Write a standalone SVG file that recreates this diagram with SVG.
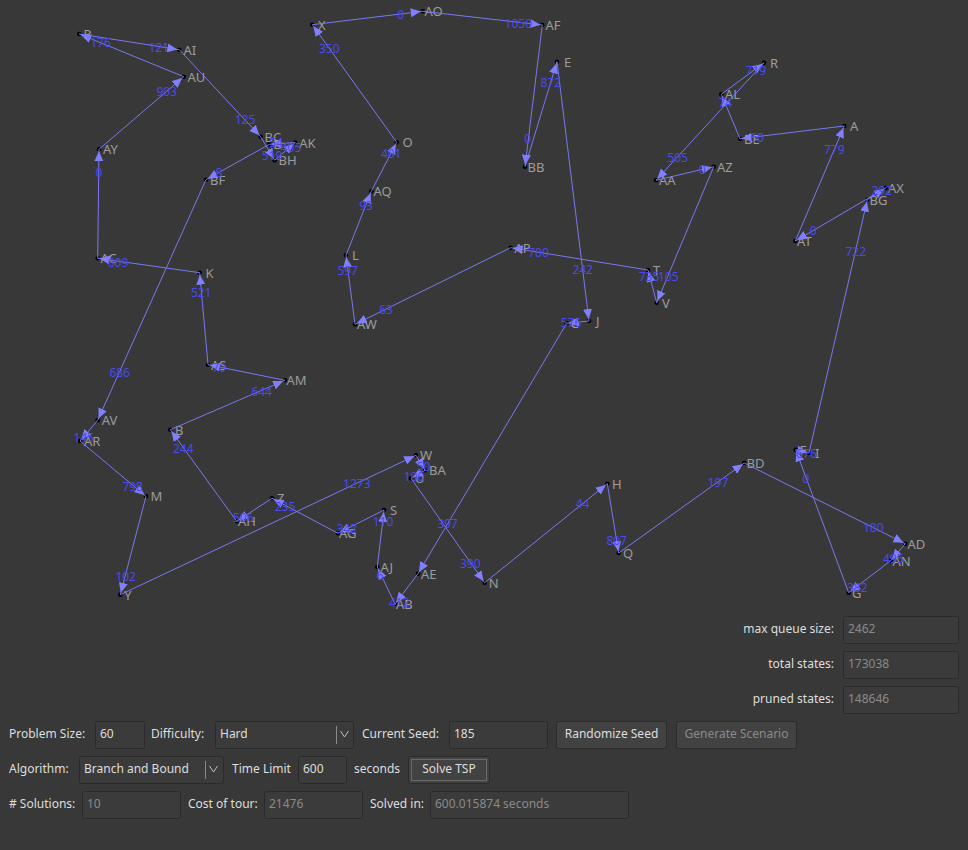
<svg xmlns="http://www.w3.org/2000/svg" width="968" height="850" viewBox="0 0 968 850">
<style>
.bg{fill:#383838}
.dot{fill:#000}
.nl{font-family:"Noto Sans","Liberation Sans",sans-serif;font-size:13px;fill:#9c9c9c}
.e{stroke:#7878f2;stroke-width:1;fill:none}
.el{font-family:"Noto Sans","Liberation Sans",sans-serif;font-size:12px;fill:#4a4af2;text-anchor:middle}
.ui{font-family:"Noto Sans","Liberation Sans",sans-serif;font-size:12px;fill:#dedede}
.dim{fill:#8a8a8a}
.box{fill:#3b3b3b;stroke:#2a2a2a;stroke-width:1}
.btn{fill:#424242;stroke:#2b2b2b;stroke-width:1}
.chev{fill:none;stroke:#bdbdbd;stroke-width:1}
.div{stroke:#8a8a8a;stroke-width:1}
</style>
<defs>
<marker id="arr" markerUnits="userSpaceOnUse" markerWidth="14" markerHeight="10" refX="12" refY="4.5" orient="auto">
<path d="M0,0 L10,4.5 L0,9 Z" fill="#8080ff"/>
</marker>
</defs>
<rect class="bg" x="0" y="0" width="968" height="850"/>

<g id="nodes">
<g id="n-P"><circle class="dot" cx="79.3" cy="34" r="2.3"/><text class="nl" x="83.5" y="39">P</text></g>
<g id="n-AI"><circle class="dot" cx="179.3" cy="49.7" r="2.3"/><text class="nl" x="183.5" y="54.7">AI</text></g>
<g id="n-AU"><circle class="dot" cx="183.7" cy="76.7" r="2.3"/><text class="nl" x="187.5" y="81.7">AU</text></g>
<g id="n-AY"><circle class="dot" cx="99" cy="149.3" r="2.3"/><text class="nl" x="103" y="154.3">AY</text></g>
<g id="n-BC"><circle class="dot" cx="260.7" cy="136.7" r="2.3"/><text class="nl" x="264.5" y="141.7">BC</text></g>
<g id="n-D"><circle class="dot" cx="269.3" cy="144.3" r="2.3"/><text class="nl" x="273.3" y="149.3">D</text></g>
<g id="n-AK"><circle class="dot" cx="295.2" cy="142.5" r="2.3"/><text class="nl" x="299.2" y="147.5">AK</text></g>
<g id="n-BH"><circle class="dot" cx="274.7" cy="160.2" r="2.3"/><text class="nl" x="278.5" y="165">BH</text></g>
<g id="n-BF"><circle class="dot" cx="206" cy="179.7" r="2.3"/><text class="nl" x="210" y="184.7">BF</text></g>
<g id="n-AV"><circle class="dot" cx="97.7" cy="420.3" r="2.3"/><text class="nl" x="101.7" y="425.3">AV</text></g>
<g id="n-AR"><circle class="dot" cx="80" cy="441" r="2.3"/><text class="nl" x="84" y="446">AR</text></g>
<g id="n-M"><circle class="dot" cx="146" cy="496.3" r="2.3"/><text class="nl" x="150.5" y="501.3">M</text></g>
<g id="n-Y"><circle class="dot" cx="120.3" cy="594.7" r="2.3"/><text class="nl" x="124.3" y="599.7">Y</text></g>
<g id="n-W"><circle class="dot" cx="416" cy="455.3" r="2.3"/><text class="nl" x="420" y="460.3">W</text></g>
<g id="n-BA"><circle class="dot" cx="425" cy="470.3" r="2.3"/><text class="nl" x="429" y="475.3">BA</text></g>
<g id="n-U"><circle class="dot" cx="411" cy="478.3" r="2.3"/><text class="nl" x="415" y="483.3">U</text></g>
<g id="n-N"><circle class="dot" cx="484.7" cy="582.7" r="2.3"/><text class="nl" x="488.7" y="587.7">N</text></g>
<g id="n-H"><circle class="dot" cx="607.3" cy="483.7" r="2.3"/><text class="nl" x="612" y="488.7">H</text></g>
<g id="n-Q"><circle class="dot" cx="618.7" cy="553" r="2.3"/><text class="nl" x="623" y="558">Q</text></g>
<g id="n-BD"><circle class="dot" cx="744.3" cy="463" r="2.3"/><text class="nl" x="746.5" y="468">BD</text></g>
<g id="n-AD"><circle class="dot" cx="905.3" cy="543.7" r="2.3"/><text class="nl" x="907.5" y="548.7">AD</text></g>
<g id="n-AN"><circle class="dot" cx="890.7" cy="560.7" r="2.3"/><text class="nl" x="892.5" y="565.7">AN</text></g>
<g id="n-G"><circle class="dot" cx="848.7" cy="592.7" r="2.3"/><text class="nl" x="852" y="597.7">G</text></g>
<g id="n-F"><circle class="dot" cx="795.7" cy="449.7" r="2.3"/><text class="nl" x="799.7" y="454.7">F</text></g>
<g id="n-I"><circle class="dot" cx="809" cy="453" r="2.3"/><text class="nl" x="815" y="458">I</text></g>
<g id="n-BG"><circle class="dot" cx="867.3" cy="199.7" r="2.3"/><text class="nl" x="869.5" y="204.7">BG</text></g>
<g id="n-AX"><circle class="dot" cx="885.7" cy="188" r="2.3"/><text class="nl" x="888" y="193">AX</text></g>
<g id="n-AT"><circle class="dot" cx="795.3" cy="241" r="2.3"/><text class="nl" x="797" y="246">AT</text></g>
<g id="n-A"><circle class="dot" cx="844.3" cy="126" r="2.3"/><text class="nl" x="850" y="131">A</text></g>
<g id="n-BE"><circle class="dot" cx="740" cy="138.7" r="2.3"/><text class="nl" x="744" y="143.7">BE</text></g>
<g id="n-AL"><circle class="dot" cx="721.3" cy="94.3" r="2.3"/><text class="nl" x="725" y="99.3">AL</text></g>
<g id="n-R"><circle class="dot" cx="764" cy="62.7" r="2.3"/><text class="nl" x="770" y="67.7">R</text></g>
<g id="n-AA"><circle class="dot" cx="656" cy="180.3" r="2.3"/><text class="nl" x="659" y="185.3">AA</text></g>
<g id="n-AZ"><circle class="dot" cx="713.7" cy="166.7" r="2.3"/><text class="nl" x="717" y="171.7">AZ</text></g>
<g id="n-V"><circle class="dot" cx="656.7" cy="302.7" r="2.3"/><text class="nl" x="662" y="307.7">V</text></g>
<g id="n-T"><circle class="dot" cx="648" cy="270" r="2.3"/><text class="nl" x="653" y="275">T</text></g>
<g id="n-AP"><circle class="dot" cx="510.7" cy="247.7" r="2.3"/><text class="nl" x="514.5" y="252.7">AP</text></g>
<g id="n-AW"><circle class="dot" cx="355" cy="324.3" r="2.3"/><text class="nl" x="357" y="329.3">AW</text></g>
<g id="n-L"><circle class="dot" cx="346" cy="255.3" r="2.3"/><text class="nl" x="352" y="260.3">L</text></g>
<g id="n-AQ"><circle class="dot" cx="371.3" cy="191.3" r="2.3"/><text class="nl" x="373.5" y="196.3">AQ</text></g>
<g id="n-O"><circle class="dot" cx="396.7" cy="142.3" r="2.3"/><text class="nl" x="402.5" y="147.3">O</text></g>
<g id="n-X"><circle class="dot" cx="312.3" cy="24.7" r="2.3"/><text class="nl" x="318" y="29.7">X</text></g>
<g id="n-AO"><circle class="dot" cx="422.7" cy="11.3" r="2.3"/><text class="nl" x="424.5" y="16.3">AO</text></g>
<g id="n-AF"><circle class="dot" cx="542.3" cy="25" r="2.3"/><text class="nl" x="545.5" y="30">AF</text></g>
<g id="n-BB"><circle class="dot" cx="525" cy="166.7" r="2.3"/><text class="nl" x="527.5" y="171.7">BB</text></g>
<g id="n-E"><circle class="dot" cx="557" cy="61.7" r="2.3"/><text class="nl" x="564" y="66.7">E</text></g>
<g id="n-J"><circle class="dot" cx="589" cy="321" r="2.3"/><text class="nl" x="596" y="326">J</text></g>
<g id="n-C"><circle class="dot" cx="566.7" cy="323.3" r="2.3"/><text class="nl" x="570.5" y="328.3">C</text></g>
<g id="n-AE"><circle class="dot" cx="418" cy="573.7" r="2.3"/><text class="nl" x="421" y="578.7">AE</text></g>
<g id="n-AB"><circle class="dot" cx="395" cy="604" r="2.3"/><text class="nl" x="396" y="609">AB</text></g>
<g id="n-AJ"><circle class="dot" cx="377.3" cy="567" r="2.3"/><text class="nl" x="380.5" y="572">AJ</text></g>
<g id="n-S"><circle class="dot" cx="384" cy="510" r="2.3"/><text class="nl" x="390" y="515">S</text></g>
<g id="n-AG"><circle class="dot" cx="338" cy="533.3" r="2.3"/><text class="nl" x="339" y="538.3">AG</text></g>
<g id="n-Z"><circle class="dot" cx="272" cy="498.3" r="2.3"/><text class="nl" x="277" y="503.3">Z</text></g>
<g id="n-AH"><circle class="dot" cx="236.7" cy="521.3" r="2.3"/><text class="nl" x="238" y="526.3">AH</text></g>
<g id="n-B"><circle class="dot" cx="170.3" cy="429.7" r="2.3"/><text class="nl" x="175" y="434.7">B</text></g>
<g id="n-AM"><circle class="dot" cx="285" cy="380.3" r="2.3"/><text class="nl" x="286.5" y="385.3">AM</text></g>
<g id="n-AS"><circle class="dot" cx="208" cy="364.7" r="2.3"/><text class="nl" x="211" y="369.7">AS</text></g>
<g id="n-K"><circle class="dot" cx="199.7" cy="272.7" r="2.3"/><text class="nl" x="205.5" y="277.7">K</text></g>
<g id="n-AC"><circle class="dot" cx="97.7" cy="258.3" r="2.3"/><text class="nl" x="100.5" y="263.3">AC</text></g>
</g>

<g id="connectors">
<g id="edges" marker-end="url(#arr)">
<line class="e" x1="99" y1="149.3" x2="183.7" y2="76.7" marker-end="url(#arr)"/>
<line class="e" x1="183.7" y1="76.7" x2="79.3" y2="34" marker-end="url(#arr)"/>
<line class="e" x1="79.3" y1="34" x2="179.3" y2="49.7" marker-end="url(#arr)"/>
<line class="e" x1="179.3" y1="49.7" x2="260.7" y2="136.7" marker-end="url(#arr)"/>
<line class="e" x1="260.7" y1="136.7" x2="274.7" y2="160.2" marker-end="url(#arr)"/>
<line class="e" x1="274.7" y1="160.2" x2="295.2" y2="142.5" marker-end="url(#arr)"/>
<line class="e" x1="295.2" y1="142.5" x2="269.3" y2="144.3" marker-end="url(#arr)"/>
<line class="e" x1="269.3" y1="144.3" x2="206" y2="179.7" marker-end="url(#arr)"/>
<line class="e" x1="206" y1="179.7" x2="97.7" y2="420.3" marker-end="url(#arr)"/>
<line class="e" x1="97.7" y1="420.3" x2="80" y2="441" marker-end="url(#arr)"/>
<line class="e" x1="80" y1="441" x2="146" y2="496.3" marker-end="url(#arr)"/>
<line class="e" x1="146" y1="496.3" x2="120.3" y2="594.7" marker-end="url(#arr)"/>
<line class="e" x1="120.3" y1="594.7" x2="416" y2="455.3" marker-end="url(#arr)"/>
<line class="e" x1="416" y1="455.3" x2="425" y2="470.3" marker-end="url(#arr)"/>
<line class="e" x1="425" y1="470.3" x2="411" y2="478.3" marker-end="url(#arr)"/>
<line class="e" x1="411" y1="478.3" x2="484.7" y2="582.7" marker-end="url(#arr)"/>
<line class="e" x1="484.7" y1="582.7" x2="607.3" y2="483.7" marker-end="url(#arr)"/>
<line class="e" x1="607.3" y1="483.7" x2="618.7" y2="553" marker-end="url(#arr)"/>
<line class="e" x1="618.7" y1="553" x2="744.3" y2="463" marker-end="url(#arr)"/>
<line class="e" x1="744.3" y1="463" x2="905.3" y2="543.7" marker-end="url(#arr)"/>
<line class="e" x1="905.3" y1="543.7" x2="890.7" y2="560.7" marker-end="url(#arr)"/>
<line class="e" x1="890.7" y1="560.7" x2="848.7" y2="592.7" marker-end="url(#arr)"/>
<line class="e" x1="848.7" y1="592.7" x2="795.7" y2="449.7" marker-end="url(#arr)"/>
<line class="e" x1="795.7" y1="449.7" x2="809" y2="453" marker-end="url(#arr)"/>
<line class="e" x1="809" y1="453" x2="867.3" y2="199.7" marker-end="url(#arr)"/>
<line class="e" x1="867.3" y1="199.7" x2="885.7" y2="188" marker-end="url(#arr)"/>
<line class="e" x1="885.7" y1="188" x2="795.3" y2="241" marker-end="url(#arr)"/>
<line class="e" x1="795.3" y1="241" x2="844.3" y2="126" marker-end="url(#arr)"/>
<line class="e" x1="844.3" y1="126" x2="740" y2="138.7" marker-end="url(#arr)"/>
<line class="e" x1="740" y1="138.7" x2="721.3" y2="94.3" marker-end="url(#arr)"/>
<line class="e" x1="721.3" y1="94.3" x2="764" y2="62.7" marker-end="url(#arr)"/>
<line class="e" x1="764" y1="62.7" x2="656" y2="180.3" marker-end="url(#arr)"/>
<line class="e" x1="656" y1="180.3" x2="713.7" y2="166.7" marker-end="url(#arr)"/>
<line class="e" x1="713.7" y1="166.7" x2="656.7" y2="302.7" marker-end="url(#arr)"/>
<line class="e" x1="656.7" y1="302.7" x2="648" y2="270" marker-end="url(#arr)"/>
<line class="e" x1="648" y1="270" x2="510.7" y2="247.7" marker-end="url(#arr)"/>
<line class="e" x1="510.7" y1="247.7" x2="355" y2="324.3" marker-end="url(#arr)"/>
<line class="e" x1="355" y1="324.3" x2="346" y2="255.3" marker-end="url(#arr)"/>
<line class="e" x1="346" y1="255.3" x2="371.3" y2="191.3" marker-end="url(#arr)"/>
<line class="e" x1="371.3" y1="191.3" x2="396.7" y2="142.3" marker-end="url(#arr)"/>
<line class="e" x1="396.7" y1="142.3" x2="312.3" y2="24.7" marker-end="url(#arr)"/>
<line class="e" x1="312.3" y1="24.7" x2="422.7" y2="11.3" marker-end="url(#arr)"/>
<line class="e" x1="422.7" y1="11.3" x2="542.3" y2="25" marker-end="url(#arr)"/>
<line class="e" x1="542.3" y1="25" x2="525" y2="166.7" marker-end="url(#arr)"/>
<line class="e" x1="525" y1="166.7" x2="557" y2="61.7" marker-end="url(#arr)"/>
<line class="e" x1="557" y1="61.7" x2="589" y2="321" marker-end="url(#arr)"/>
<line class="e" x1="589" y1="321" x2="566.7" y2="323.3" marker-end="url(#arr)"/>
<line class="e" x1="566.7" y1="323.3" x2="418" y2="573.7" marker-end="url(#arr)"/>
<line class="e" x1="418" y1="573.7" x2="395" y2="604" marker-end="url(#arr)"/>
<line class="e" x1="395" y1="604" x2="377.3" y2="567" marker-end="url(#arr)"/>
<line class="e" x1="377.3" y1="567" x2="384" y2="510" marker-end="url(#arr)"/>
<line class="e" x1="384" y1="510" x2="338" y2="533.3" marker-end="url(#arr)"/>
<line class="e" x1="338" y1="533.3" x2="272" y2="498.3" marker-end="url(#arr)"/>
<line class="e" x1="272" y1="498.3" x2="236.7" y2="521.3" marker-end="url(#arr)"/>
<line class="e" x1="236.7" y1="521.3" x2="170.3" y2="429.7" marker-end="url(#arr)"/>
<line class="e" x1="170.3" y1="429.7" x2="285" y2="380.3" marker-end="url(#arr)"/>
<line class="e" x1="285" y1="380.3" x2="208" y2="364.7" marker-end="url(#arr)"/>
<line class="e" x1="208" y1="364.7" x2="199.7" y2="272.7" marker-end="url(#arr)"/>
<line class="e" x1="199.7" y1="272.7" x2="97.7" y2="258.3" marker-end="url(#arr)"/>
<line class="e" x1="97.7" y1="258.3" x2="99" y2="149.3" marker-end="url(#arr)"/>
</g>
<g id="edge-labels">
<text class="el" x="166.7" y="96">903</text>
<text class="el" x="100.7" y="47.3">176</text>
<text class="el" x="158.8" y="51.7">121</text>
<text class="el" x="245" y="124.3">125</text>
<text class="el" x="272" y="160">519</text>
<text class="el" x="291" y="151.7">405</text>
<text class="el" x="276" y="146.7">54</text>
<text class="el" x="219" y="176.7">8</text>
<text class="el" x="119.7" y="376.7">686</text>
<text class="el" x="83.7" y="442.3">145</text>
<text class="el" x="132.7" y="490.7">798</text>
<text class="el" x="125.7" y="580.7">102</text>
<text class="el" x="356.8" y="488.3">1273</text>
<text class="el" x="423.5" y="470.7">50</text>
<text class="el" x="414" y="480.7">100</text>
<text class="el" x="470.3" y="567.7">390</text>
<text class="el" x="582.5" y="508.3">44</text>
<text class="el" x="616.7" y="545">807</text>
<text class="el" x="718" y="486.7">197</text>
<text class="el" x="873.3" y="532.3">180</text>
<text class="el" x="893.3" y="562.7">495</text>
<text class="el" x="857.3" y="591.7">382</text>
<text class="el" x="806" y="483.3">0</text>
<text class="el" x="806.3" y="458.3">676</text>
<text class="el" x="855.8" y="255.7">722</text>
<text class="el" x="881.7" y="195">292</text>
<text class="el" x="813.3" y="235">0</text>
<text class="el" x="834.3" y="154.3">779</text>
<text class="el" x="757" y="141.7">60</text>
<text class="el" x="725.3" y="107.3">74</text>
<text class="el" x="755.8" y="75">719</text>
<text class="el" x="677.7" y="162.3">505</text>
<text class="el" x="702.3" y="174">0</text>
<text class="el" x="668.3" y="280.7">105</text>
<text class="el" x="649" y="280.7">735</text>
<text class="el" x="538.5" y="257.3">700</text>
<text class="el" x="386" y="314.3">63</text>
<text class="el" x="347.7" y="275">597</text>
<text class="el" x="366" y="210">93</text>
<text class="el" x="391.2" y="157.7">401</text>
<text class="el" x="329.3" y="53.3">350</text>
<text class="el" x="400.7" y="19.3">0</text>
<text class="el" x="518.3" y="27.7">1050</text>
<text class="el" x="527.8" y="143.3">0</text>
<text class="el" x="550.7" y="87.3">872</text>
<text class="el" x="582.7" y="274.3">242</text>
<text class="el" x="571" y="327.3">576</text>
<text class="el" x="447.7" y="528.3">397</text>
<text class="el" x="399.3" y="606.7">412</text>
<text class="el" x="380" y="580">6</text>
<text class="el" x="383" y="526">110</text>
<text class="el" x="346.7" y="533.3">342</text>
<text class="el" x="285" y="510.7">235</text>
<text class="el" x="243.3" y="521.7">506</text>
<text class="el" x="183.3" y="453.3">244</text>
<text class="el" x="261.7" y="395.7">644</text>
<text class="el" x="219" y="371.7">70</text>
<text class="el" x="201.2" y="296.7">521</text>
<text class="el" x="118" y="266.7">609</text>
<text class="el" x="99" y="176.7">0</text>
</g>
</g>

<g id="controls">
<text class="ui" x="834" y="633" text-anchor="end">max queue size:</text>
<rect class="box" x="843.5" y="616.5" width="115" height="27" rx="2"/>
<text class="ui dim" x="848" y="633">2462</text>
<text class="ui" x="834" y="668" text-anchor="end">total states:</text>
<rect class="box" x="843.5" y="651.5" width="115" height="27" rx="2"/>
<text class="ui dim" x="848" y="668">173038</text>
<text class="ui" x="834" y="703" text-anchor="end">pruned states:</text>
<rect class="box" x="843.5" y="686.5" width="115" height="27" rx="2"/>
<text class="ui dim" x="848" y="703">148646</text>

<text class="ui" x="9" y="738">Problem Size:</text>
<rect class="box" x="95.5" y="721.5" width="49" height="27" rx="2"/>
<text class="ui" x="100" y="738">60</text>
<text class="ui" x="151" y="738">Difficulty:</text>
<rect class="box" x="215.5" y="721.5" width="138" height="27" rx="2"/>
<text class="ui" x="220" y="738">Hard</text>
<line class="div" x1="336.5" y1="726" x2="336.5" y2="744"/>
<polyline class="chev" points="340.5,731 344.5,737 348.5,731"/>
<text class="ui" x="362" y="738">Current Seed:</text>
<rect class="box" x="449.5" y="721.5" width="98" height="27" rx="2"/>
<text class="ui" x="454" y="738">185</text>
<rect class="btn" x="556.5" y="721.5" width="110" height="27" rx="2"/>
<text class="ui" x="611.5" y="738" text-anchor="middle">Randomize Seed</text>
<rect class="btn" x="676.5" y="721.5" width="120" height="27" rx="2"/>
<text class="ui dim" x="736.5" y="738" text-anchor="middle">Generate Scenario</text>

<text class="ui" x="9" y="773">Algorithm:</text>
<rect class="box" x="79.5" y="756.5" width="144" height="27" rx="2"/>
<text class="ui" x="84" y="773">Branch and Bound</text>
<line class="div" x1="205.5" y1="761" x2="205.5" y2="779"/>
<polyline class="chev" points="209.5,766 213.5,772 217.5,766"/>
<text class="ui" x="232" y="773">Time Limit</text>
<rect class="box" x="298.5" y="756.5" width="48" height="27" rx="2"/>
<text class="ui" x="303" y="773">600</text>
<text class="ui" x="354" y="773">seconds</text>
<rect class="btn" x="408.5" y="756.5" width="81" height="27" rx="2"/>
<rect x="411.5" y="759.5" width="75" height="21" fill="none" stroke="#6a6a6a" stroke-width="1"/>
<text class="ui" x="449" y="773" text-anchor="middle">Solve TSP</text>

<text class="ui" x="9" y="808"># Solutions:</text>
<rect class="box" x="82.5" y="791.5" width="98" height="27" rx="2"/>
<text class="ui dim" x="87" y="808">10</text>
<text class="ui" x="188" y="808">Cost of tour:</text>
<rect class="box" x="264.5" y="791.5" width="98" height="27" rx="2"/>
<text class="ui dim" x="269" y="808">21476</text>
<text class="ui" x="370" y="808">Solved in:</text>
<rect class="box" x="430.5" y="791.5" width="198" height="27" rx="2"/>
<text class="ui dim" x="435" y="808">600.015874 seconds</text>
</g>
</svg>
